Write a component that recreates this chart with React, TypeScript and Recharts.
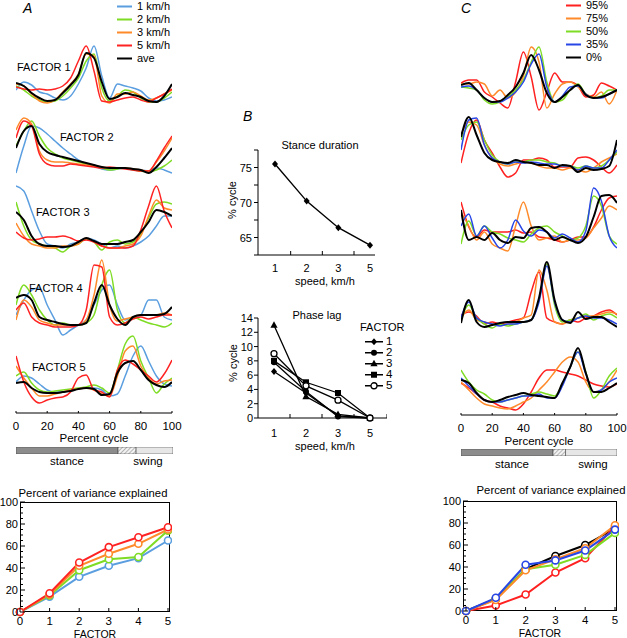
import React from 'react';
import { LineChart, Line, XAxis, YAxis, BarChart, Bar } from 'recharts';

// percent of gait cycle, sampled every 5%
const CYCLE = [0, 5, 10, 15, 20, 25, 30, 35, 40, 45, 50, 55, 60, 65, 70, 75, 80, 85, 90, 95, 100];
const CYCLE_TICKS = [0, 20, 40, 60, 80, 100];

const SPEED_LABELS = ['1 km/h', '2 km/h', '3 km/h', '5 km/h', 'ave'];
const SPEED_COLORS = ['#5a9ee0', '#7edc24', '#ff8a2a', '#ff2222', '#000000'];
const LOAD_LABELS = ['95%', '75%', '50%', '35%', '0%'];
const LOAD_COLORS = ['#ff2020', '#ff8a2a', '#7edc24', '#2846e6', '#000000'];

// Panel A factor waveforms (arbitrary units)
const A1_K1 = [16, 24, 21, 14, 12, 8, 6, 10, 22, 38, 60, 30, 8, 22, 20, 18, 15, 8, 5, 6, 9];
const A1_K2 = [20, 16, 10, 6, 4, 5, 10, 18, 28, 45, 52, 18, 5, 10, 16, 14, 8, 4, 4, 8, 14];
const A1_K3 = [22, 20, 12, 5, 3, 6, 14, 22, 32, 52, 50, 10, 3, 12, 12, 14, 10, 6, 8, 12, 16];
const A1_K5 = [19, 17, 16, 17, 16, 17, 20, 28, 45, 60, 35, 5, 4, 6, 8, 9, 6, 4, 8, 12, 17];
const A1_AVE = [23, 20, 13, 8, 5, 6, 13, 21, 31, 53, 48, 24, 7, 9, 13, 11, 9, 5, 4, 10, 22];

const A2_K1 = [3, 30, 50, 48, 42, 35, 28, 22, 16, 12, 10, 7, 6, 7, 8, 6, 6, 5, 8, 6, 3];
const A2_K2 = [30, 45, 55, 40, 28, 22, 18, 16, 14, 12, 10, 8, 6, 7, 8, 6, 5, 4, 6, 10, 16];
const A2_K3 = [46, 58, 52, 25, 16, 14, 14, 13, 12, 11, 10, 9, 8, 8, 8, 7, 6, 5, 14, 25, 38];
const A2_K5 = [38, 55, 50, 22, 12, 10, 10, 12, 11, 10, 9, 8, 9, 8, 7, 6, 5, 5, 15, 28, 40];
const A2_AVE = [28, 45, 50, 32, 24, 21, 19, 17, 15, 13, 11, 9, 8, 8, 8, 7, 6, 3, 9, 18, 28];

const A3_K1 = [70, 65, 45, 25, 12, 10, 8, 12, 14, 18, 16, 12, 8, 10, 8, 10, 14, 20, 30, 40, 40];
const A3_K2 = [54, 30, 16, 12, 10, 8, 4, 10, 12, 17, 14, 6, 14, 16, 12, 14, 22, 38, 52, 54, 52];
const A3_K3 = [33, 20, 12, 10, 8, 8, 10, 10, 12, 18, 14, 10, 8, 8, 10, 12, 20, 40, 56, 48, 46];
const A3_K5 = [24, 18, 16, 17, 19, 19, 20, 18, 15, 16, 14, 10, 8, 8, 8, 10, 26, 50, 70, 45, 28];
const A3_AVE = [44, 36, 20, 12, 10, 10, 9, 10, 14, 18, 15, 12, 12, 12, 14, 16, 24, 34, 46, 44, 40];

const A4_K1 = [30, 45, 55, 57, 40, 25, 10, 15, 20, 25, 40, 55, 60, 40, 25, 28, 30, 45, 45, 28, 25];
const A4_K2 = [40, 60, 50, 35, 25, 20, 22, 20, 20, 22, 30, 60, 75, 35, 22, 28, 25, 22, 20, 18, 22];
const A4_K3 = [25, 45, 38, 25, 22, 20, 20, 20, 20, 25, 50, 85, 40, 24, 26, 28, 30, 30, 30, 32, 30];
const A4_K5 = [35, 42, 28, 22, 20, 18, 18, 18, 20, 35, 80, 78, 28, 20, 22, 26, 28, 26, 28, 30, 30];
const A4_AVE = [47, 50, 45, 28, 25, 23, 21, 20, 20, 22, 42, 60, 40, 26, 20, 28, 30, 30, 30, 31, 38];

const A5_K1 = [24, 30, 28, 22, 16, 14, 14, 16, 17, 18, 18, 16, 10, 12, 30, 50, 60, 45, 30, 22, 20];
const A5_K2 = [30, 34, 23, 16, 14, 15, 16, 17, 18, 19, 21, 18, 13, 36, 62, 70, 45, 28, 13, 22, 28];
const A5_K3 = [40, 28, 18, 10, 10, 12, 14, 16, 17, 18, 16, 12, 10, 30, 55, 60, 40, 28, 22, 25, 26];
const A5_K5 = [50, 24, 9, 3, 6, 8, 9, 14, 28, 31, 16, 14, 9, 36, 46, 42, 36, 30, 24, 32, 46];
const A5_AVE = [23, 24, 18, 14, 13, 13, 14, 15, 17, 18, 17, 11, 12, 33, 43, 45, 36, 26, 21, 19, 24];

// Panel C factor waveforms (arbitrary units)
const C1_P95 = [29, 32, 32, 20, 15, 9, 4, 30, 60, 35, 2, 20, 39, 30, 30, 26, 15, 17, 29, 26, 22];
const C1_P75 = [28, 28, 30, 28, 16, 22, 14, 20, 36, 65, 50, 4, 18, 28, 30, 25, 18, 15, 20, 8, 22];
const C1_P50 = [25, 24, 22, 12, 8, 10, 15, 22, 32, 50, 65, 30, 10, 12, 22, 28, 18, 14, 16, 22, 22];
const C1_P35 = [25, 26, 22, 14, 10, 10, 14, 20, 30, 48, 58, 25, 10, 16, 25, 26, 18, 14, 14, 18, 22];
const C1_P0 = [27, 29, 22, 14, 10, 11, 17, 25, 39, 57, 42, 19, 10, 15, 22, 27, 17, 14, 15, 18, 22];

const C2_P95 = [17, 47, 60, 40, 27, 13, 3, 7, 20, 20, 22, 20, 13, 13, 13, 22, 23, 20, 13, 7, 15];
const C2_P75 = [45, 58, 55, 35, 22, 16, 14, 16, 18, 17, 14, 12, 12, 10, 12, 10, 8, 12, 18, 22, 26];
const C2_P50 = [40, 55, 58, 40, 25, 18, 16, 18, 18, 20, 20, 18, 17, 14, 14, 12, 14, 12, 14, 20, 28];
const C2_P35 = [30, 60, 62, 35, 22, 18, 16, 18, 17, 18, 17, 16, 16, 14, 14, 10, 14, 12, 12, 20, 30];
const C2_P0 = [43, 63, 45, 27, 20, 18, 17, 20, 18, 17, 15, 15, 12, 15, 14, 8, 12, 10, 11, 14, 40];

const C3_P95 = [54, 29, 19, 26, 24, 24, 24, 26, 23, 24, 19, 18, 16, 14, 16, 19, 19, 29, 46, 58, 60];
const C3_P75 = [44, 30, 16, 24, 12, 8, 5, 30, 54, 30, 16, 18, 20, 14, 16, 16, 18, 28, 38, 50, 46];
const C3_P50 = [12, 35, 20, 30, 24, 22, 18, 16, 14, 22, 28, 30, 24, 20, 16, 18, 30, 60, 50, 20, 12];
const C3_P35 = [30, 42, 20, 30, 18, 8, 16, 36, 25, 20, 26, 24, 18, 22, 18, 14, 25, 68, 55, 20, 8];
const C3_P0 = [46, 16, 19, 16, 23, 16, 13, 19, 18, 28, 29, 24, 16, 19, 16, 13, 19, 39, 60, 61, 53];

const C4_P95 = [15, 18, 14, 6, 8, 6, 8, 10, 12, 38, 58, 12, 8, 6, 10, 8, 12, 14, 18, 20, 15];
const C4_P75 = [12, 20, 10, 8, 6, 5, 6, 8, 12, 15, 60, 40, 8, 6, 10, 12, 14, 14, 16, 18, 16];
const C4_P50 = [10, 25, 12, 6, 2, 6, 4, 6, 8, 10, 30, 66, 25, 8, 10, 12, 16, 10, 14, 16, 12];
const C4_P35 = [12, 28, 12, 8, 6, 4, 6, 6, 8, 10, 28, 64, 28, 10, 8, 12, 14, 12, 12, 10, 6];
const C4_P0 = [7, 30, 8, 3, 5, 7, 8, 8, 8, 10, 32, 68, 30, 10, 7, 18, 11, 13, 13, 8, 3];

const C5_P95 = [29, 24, 18, 12, 10, 6, 4, 2, 8, 20, 34, 42, 42, 40, 38, 36, 32, 28, 26, 25, 28];
const C5_P75 = [30, 22, 14, 8, 6, 4, 3, 6, 10, 14, 22, 30, 40, 50, 55, 50, 30, 20, 22, 30, 42];
const C5_P50 = [42, 30, 22, 18, 12, 10, 12, 14, 16, 18, 20, 18, 16, 28, 45, 60, 40, 14, 22, 36, 44];
const C5_P35 = [34, 26, 18, 12, 10, 10, 12, 14, 16, 16, 18, 14, 14, 26, 45, 60, 38, 20, 22, 30, 34];
const C5_P0 = [32, 29, 19, 12, 10, 12, 15, 17, 19, 17, 16, 15, 14, 29, 45, 64, 39, 20, 20, 24, 29];

// stance / transition / swing, % of cycle
const PHASE_A = [65, 11.5, 23.5];
const PHASE_C = [59, 8, 33];

// Panel B
const SPEEDS = ['1', '2', '3', '5'];
const STANCE = [75.5, 70.2, 66.4, 63.9];
const STANCE_TICKS = [62.5, 65, 67.5, 70, 72.5, 75, 77.5];
const LAG_F1 = [6.5, 3.5, 0.3, 0];
const LAG_F2 = [7.8, 3.7, 0.2, 0];
const LAG_F3 = [13, 3, 0.5, 0];
const LAG_F4 = [8, 5, 3.5, 0];
const LAG_F5 = [9, 4.5, 2.5, 0];
const LAG_TICKS = [0, 2, 4, 6, 8, 10, 12, 14];
const LAG_NAMES = ['1', '2', '3', '4', '5'];
const LAG_SHAPES = ['diamond', 'circle', 'triangle', 'square', 'open'];

// Percent of variance explained
const FACTOR_IDX = [0, 1, 2, 3, 4, 5];
const VAR_TICKS = [0, 5, 10, 15, 20, 25, 30, 35, 40, 45, 50, 55, 60, 65, 70, 75, 80, 85, 90, 95, 100];
const VAR_A_K1 = [0, 14, 32, 42, 49, 65];
const VAR_A_K2 = [0, 15, 38, 48, 50, 74];
const VAR_A_K3 = [0, 16, 42, 53, 62, 75];
const VAR_A_K5 = [0, 17, 45, 59, 68, 77];
const VAR_C_P0 = [0, 11, 38, 50, 60, 75];
const VAR_C_P95 = [0, 5, 15, 35, 48, 77];
const VAR_C_P50 = [0, 11, 38, 42, 51, 71];
const VAR_C_P75 = [0, 10, 37, 47, 57, 78];
const VAR_C_P35 = [0, 12, 42, 46, 55, 74];

const A_FACTORS = [
  [A1_K1, A1_K2, A1_K3, A1_K5, A1_AVE],
  [A2_K1, A2_K2, A2_K3, A2_K5, A2_AVE],
  [A3_K1, A3_K2, A3_K3, A3_K5, A3_AVE],
  [A4_K1, A4_K2, A4_K3, A4_K5, A4_AVE],
  [A5_K1, A5_K2, A5_K3, A5_K5, A5_AVE],
];
const C_FACTORS = [
  [C1_P95, C1_P75, C1_P50, C1_P35, C1_P0],
  [C2_P95, C2_P75, C2_P50, C2_P35, C2_P0],
  [C3_P95, C3_P75, C3_P50, C3_P35, C3_P0],
  [C4_P95, C4_P75, C4_P50, C4_P35, C4_P0],
  [C5_P95, C5_P75, C5_P50, C5_P35, C5_P0],
];

// strip placement: [top, height] in px
const A_BOXES = [[42, 64], [112, 64], [180, 76], [255, 90], [328, 78]];
const C_BOXES = [[40, 72], [110, 70], [183, 73], [258, 72], [340, 72]];
const A_FACTOR_LABELS = [[17, 67], [60, 137], [36, 212], [29, 288], [32, 367]];

const FONT = '"Liberation Sans", Arial, Helvetica, sans-serif';

function Txt({ x, y, children, size = 11, center = false, italic = false, rotate = false }: any) {
  const tf = rotate ? 'translate(-50%, -50%) rotate(-90deg)' : center ? 'translate(-50%, -50%)' : 'translate(0, -50%)';
  return (
    <div
      style={{
        position: 'absolute',
        left: x,
        top: y,
        transform: tf,
        fontSize: size,
        lineHeight: 1,
        whiteSpace: 'nowrap',
        fontStyle: italic ? 'italic' : 'normal',
      }}
    >
      {children}
    </div>
  );
}

function Marker({ cx, cy, shape }: { cx: number; cy: number; shape: string }) {
  if (cx == null || cy == null) return null;
  if (shape === 'diamond')
    return <polygon points={`${cx},${cy - 3.5} ${cx + 3},${cy} ${cx},${cy + 3.5} ${cx - 3},${cy}`} fill="#000" />;
  if (shape === 'triangle')
    return <polygon points={`${cx},${cy - 4} ${cx + 3.6},${cy + 2.6} ${cx - 3.6},${cy + 2.6}`} fill="#000" />;
  if (shape === 'square') return <rect x={cx - 3} y={cy - 3} width={6} height={6} fill="#000" />;
  if (shape === 'open') return <circle cx={cx} cy={cy} r={3} fill="#fff" stroke="#000" strokeWidth={1.3} />;
  return <circle cx={cx} cy={cy} r={3} fill="#000" />;
}

// x tick: mark pointing up, label below
function UpTick(props: any) {
  const { x, y, payload, len = 5, dy = 16, size = 11.5 } = props;
  return (
    <g>
      <line x1={x} y1={y} x2={x} y2={y - len} stroke="#000" strokeWidth={1} />
      <text x={x} y={y + dy} textAnchor="middle" fontSize={size} fill="#000">
        {payload.value}
      </text>
    </g>
  );
}

function TraceStrip({ left, top, height, series, colors }: any) {
  const rows = CYCLE.map((p, i) => {
    const row: Record<string, number> = { p };
    series.forEach((s: number[], j: number) => {
      row['s' + j] = s[i];
    });
    return row;
  });
  return (
    <div style={{ position: 'absolute', left, top }}>
      <LineChart width={156} height={height} data={rows} margin={{ top: 0, right: 0, bottom: 0, left: 0 }}>
        <XAxis dataKey="p" type="number" domain={[0, 100]} hide />
        <YAxis type="number" domain={[0, height]} hide allowDataOverflow />
        {series.map((_: number[], j: number) => (
          <Line
            key={j}
            dataKey={'s' + j}
            type="monotone"
            stroke={colors[j]}
            strokeWidth={j === 4 ? 2 : 1.5}
            dot={false}
            isAnimationActive={false}
          />
        ))}
      </LineChart>
    </div>
  );
}

function CycleAxis({ left, top }: any) {
  const rows = CYCLE_TICKS.map((p) => ({ p, z: 0 }));
  return (
    <div style={{ position: 'absolute', left: left - 12, top }}>
      <LineChart width={180} height={24} data={rows} margin={{ top: 1, right: 12, bottom: 0, left: 12 }}>
        <XAxis
          dataKey="p"
          type="number"
          domain={[0, 100]}
          ticks={CYCLE_TICKS}
          interval={0}
          height={22}
          tickLine={false}
          tickSize={0}
          tickMargin={0}
          axisLine={{ stroke: '#000' }}
          tick={(t: any) => <UpTick {...t} len={5} dy={17} />}
        />
        <YAxis hide domain={[0, 1]} allowDataOverflow />
        <Line dataKey="z" stroke="none" dot={false} isAnimationActive={false} />
      </LineChart>
    </div>
  );
}

function PhaseBar({ left, top, width, phase, id }: any) {
  const rows = [{ name: 'cycle', stance: phase[0], transition: phase[1], swing: phase[2] }];
  return (
    <div style={{ position: 'absolute', left, top }}>
      <BarChart layout="vertical" width={width} height={7} data={rows} margin={{ top: 0, right: 0, bottom: 0, left: 0 }} barCategoryGap={0}>
        <defs>
          <pattern id={id} width={3} height={3} patternUnits="userSpaceOnUse" patternTransform="rotate(45)">
            <rect width={3} height={3} fill="#f2f2f2" />
            <line x1={0} y1={0} x2={0} y2={3} stroke="#888" strokeWidth={1.2} />
          </pattern>
        </defs>
        <XAxis type="number" domain={[0, 100]} hide />
        <YAxis type="category" dataKey="name" hide />
        <Bar dataKey="stance" stackId="a" fill="#8c8c8c" stroke="#444" strokeWidth={0.6} isAnimationActive={false} />
        <Bar dataKey="transition" stackId="a" fill={`url(#${id})`} stroke="#444" strokeWidth={0.6} isAnimationActive={false} />
        <Bar dataKey="swing" stackId="a" fill="#e6e6e6" stroke="#444" strokeWidth={0.6} isAnimationActive={false} />
      </BarChart>
    </div>
  );
}

// plot area sits at (left, top) with size plotW x 110
function VarianceChart({ left, top, plotW, series, colors, padLeft }: any) {
  const rows = FACTOR_IDX.map((f, i) => {
    const r: Record<string, number> = { f };
    series.forEach((s: number[], j: number) => {
      r['s' + j] = s[i];
    });
    return r;
  });
  return (
    <div style={{ position: 'absolute', left: left - 30, top: top - 8 }}>
      <div
        style={{
          position: 'absolute',
          left: 30,
          top: 8,
          width: plotW,
          height: 110,
          border: '1px solid #000',
          boxSizing: 'border-box',
        }}
      />
      <LineChart width={32 + plotW} height={144} data={rows} margin={{ top: 8, right: 2, bottom: 0, left: 0 }}>
        <XAxis
          dataKey="f"
          type="number"
          domain={[0, 5]}
          ticks={FACTOR_IDX}
          interval={0}
          height={26}
          padding={{ left: padLeft, right: 2 }}
          tickLine={false}
          tickSize={0}
          tickMargin={0}
          axisLine={false}
          tick={(t: any) => <UpTick {...t} len={4} dy={12.5} size={11.5} />}
        />
        <YAxis
          width={30}
          type="number"
          domain={[0, 100]}
          ticks={VAR_TICKS}
          interval={0}
          tickLine={false}
          tickSize={0}
          tickMargin={0}
          axisLine={false}
          tick={(t: any) => {
            const major = t.payload.value % 20 === 0;
            return (
              <g>
                <line x1={t.x} y1={t.y} x2={t.x + (major ? 5 : 3)} y2={t.y} stroke="#000" />
                {major && (
                  <text x={t.x - 2} y={t.y + 4} textAnchor="end" fontSize={11} fill="#000">
                    {t.payload.value}
                  </text>
                )}
              </g>
            );
          }}
        />
        {series.map((_: number[], j: number) => (
          <Line
            key={j}
            dataKey={'s' + j}
            stroke={colors[j]}
            strokeWidth={2}
            dot={{ r: 3.5, fill: '#fff', strokeWidth: 1.6 }}
            isAnimationActive={false}
          />
        ))}
      </LineChart>
    </div>
  );
}

function StanceChart() {
  const rows = SPEEDS.map((s, i) => ({ speed: s, stance: STANCE[i] }));
  return (
    <div style={{ position: 'absolute', left: 218, top: 144 }}>
      <LineChart width={157} height={141} data={rows} margin={{ top: 6, right: 0, bottom: 0, left: 0 }}>
        <XAxis
          dataKey="speed"
          padding={{ left: 17, right: 5 }}
          height={30}
          interval={0}
          tickLine={false}
          tickSize={0}
          tickMargin={0}
          axisLine={{ stroke: '#000' }}
          tick={(t: any) => (
            <g>
              {t.index > 0 && <line x1={t.x - 16} y1={t.y} x2={t.x - 16} y2={t.y - 4} stroke="#000" />}
              <text x={t.x} y={t.y + 17} textAnchor="middle" fontSize={11} fill="#000">
                {t.payload.value}
              </text>
            </g>
          )}
        />
        <YAxis
          width={40}
          type="number"
          domain={[62.5, 77.5]}
          ticks={STANCE_TICKS}
          interval={0}
          tickLine={false}
          tickSize={0}
          tickMargin={0}
          axisLine={{ stroke: '#000' }}
          tick={(t: any) => (
            <g>
              <line x1={t.x - 4} y1={t.y} x2={t.x} y2={t.y} stroke="#000" />
              {t.payload.value % 5 === 0 && (
                <text x={t.x - 6} y={t.y + 4} textAnchor="end" fontSize={11} fill="#000">
                  {t.payload.value}
                </text>
              )}
            </g>
          )}
        />
        <Line
          dataKey="stance"
          stroke="#000"
          strokeWidth={1.4}
          isAnimationActive={false}
          dot={(p: any) => <Marker key={p.index} cx={p.cx} cy={p.cy} shape="diamond" />}
        />
      </LineChart>
    </div>
  );
}

function PhaseLagChart() {
  const lags = [LAG_F1, LAG_F2, LAG_F3, LAG_F4, LAG_F5];
  const rows = SPEEDS.map((s, i) => {
    const r: Record<string, any> = { speed: s };
    lags.forEach((l, j) => {
      r['f' + j] = l[i];
    });
    return r;
  });
  return (
    <div style={{ position: 'absolute', left: 218, top: 311 }}>
      <LineChart width={169} height={137} data={rows} margin={{ top: 7, right: 0, bottom: 0, left: 0 }}>
        <XAxis
          dataKey="speed"
          padding={{ left: 16, right: 17 }}
          height={30}
          interval={0}
          tickLine={false}
          tickSize={0}
          tickMargin={0}
          axisLine={{ stroke: '#000' }}
          tick={(t: any) => (
            <g>
              {t.index > 0 && <line x1={t.x - 16} y1={t.y} x2={t.x - 16} y2={t.y - 4} stroke="#000" />}
              {t.index === SPEEDS.length - 1 && <line x1={t.x + 17} y1={t.y} x2={t.x + 17} y2={t.y - 4} stroke="#000" />}
              <text x={t.x} y={t.y + 19} textAnchor="middle" fontSize={11} fill="#000">
                {t.payload.value}
              </text>
            </g>
          )}
        />
        <YAxis
          width={40}
          type="number"
          domain={[0, 14]}
          ticks={LAG_TICKS}
          interval={0}
          tickLine={false}
          tickSize={0}
          tickMargin={0}
          axisLine={{ stroke: '#000' }}
          tick={(t: any) => (
            <g>
              <line x1={t.x - 4} y1={t.y} x2={t.x} y2={t.y} stroke="#000" />
              <text x={t.x - 5} y={t.y + 4} textAnchor="end" fontSize={11} fill="#000">
                {t.payload.value}
              </text>
            </g>
          )}
        />
        {lags.map((_, j) => (
          <Line
            key={j}
            dataKey={'f' + j}
            stroke="#000"
            strokeWidth={1.3}
            isAnimationActive={false}
            dot={(p: any) => <Marker key={p.index} cx={p.cx} cy={p.cy} shape={LAG_SHAPES[j]} />}
          />
        ))}
      </LineChart>
    </div>
  );
}

function ColorLegend({ left, top, labels, colors, gap }: any) {
  return (
    <>
      {labels.map((lab: string, i: number) => (
        <div key={lab} style={{ position: 'absolute', left, top: top + i * gap, display: 'flex', alignItems: 'center', transform: 'translateY(-50%)' }}>
          <div style={{ width: 15, height: 2, background: colors[i], marginRight: 5 }} />
          <span style={{ fontSize: 11, lineHeight: 1 }}>{lab}</span>
        </div>
      ))}
    </>
  );
}

export default function App() {
  return (
    <div
      style={{
        position: 'absolute',
        left: 0,
        top: 0,
        width: 627,
        height: 638,
        background: '#fff',
        color: '#000',
        fontFamily: FONT,
        overflow: 'hidden',
      }}
    >
      {/* Panel A */}
      <Txt x={23} y={8} size={14} italic>A</Txt>
      <ColorLegend left={117} top={6} labels={SPEED_LABELS} colors={SPEED_COLORS} gap={13} />
      {A_FACTORS.map((series, i) => (
        <TraceStrip key={i} left={16} top={A_BOXES[i][0]} height={A_BOXES[i][1]} series={series} colors={SPEED_COLORS} />
      ))}
      {A_FACTOR_LABELS.map(([x, y], i) => (
        <Txt key={i} x={x} y={y} size={11}>{`FACTOR ${i + 1}`}</Txt>
      ))}
      <CycleAxis left={16} top={411} />
      <Txt x={94} y={439} size={11.5} center>Percent cycle</Txt>
      <PhaseBar left={16} top={447} width={157} phase={PHASE_A} id="hatchA" />
      <Txt x={67} y={462} size={11.5} center>stance</Txt>
      <Txt x={148} y={462} size={11.5} center>swing</Txt>
      <Txt x={93} y={494} size={11.3} center>Percent of variance explained</Txt>
      <VarianceChart
        left={20}
        top={502}
        plotW={150}
        padLeft={0}
        series={[VAR_A_K1, VAR_A_K2, VAR_A_K3, VAR_A_K5]}
        colors={SPEED_COLORS}
      />
      <Txt x={95} y={633.5} size={10.5} center>FACTOR</Txt>

      {/* Panel B */}
      <Txt x={243} y={116} size={14} italic>B</Txt>
      <Txt x={320} y={145} size={11} center>Stance duration</Txt>
      <StanceChart />
      <Txt x={232} y={200} size={11} rotate>% cycle</Txt>
      <Txt x={325} y={281} size={11} center>speed, km/h</Txt>
      <Txt x={317} y={315} size={11} center>Phase lag</Txt>
      <PhaseLagChart />
      <Txt x={233} y={363} size={11} rotate>% cycle</Txt>
      <Txt x={325} y={446} size={11} center>speed, km/h</Txt>
      <Txt x={360} y={327} size={11}>FACTOR</Txt>
      {LAG_NAMES.map((n, j) => (
        <div key={n} style={{ position: 'absolute', left: 364, top: 342 + j * 11, display: 'flex', alignItems: 'center', transform: 'translateY(-50%)' }}>
          <svg width={20} height={9}>
            <line x1={1} y1={4.5} x2={19} y2={4.5} stroke="#000" strokeWidth={1.3} />
            <Marker cx={10} cy={4.5} shape={LAG_SHAPES[j]} />
          </svg>
          <span style={{ fontSize: 11.5, lineHeight: 1, marginLeft: 2 }}>{n}</span>
        </div>
      ))}

      {/* Panel C */}
      <Txt x={461} y={8} size={14} italic>C</Txt>
      <ColorLegend left={566} top={5} labels={LOAD_LABELS} colors={LOAD_COLORS} gap={13} />
      {C_FACTORS.map((series, i) => (
        <TraceStrip key={i} left={461} top={C_BOXES[i][0]} height={C_BOXES[i][1]} series={series} colors={LOAD_COLORS} />
      ))}
      <CycleAxis left={461} top={413} />
      <Txt x={539} y={442} size={11.5} center>Percent cycle</Txt>
      <PhaseBar left={461} top={449} width={156} phase={PHASE_C} id="hatchC" />
      <Txt x={512} y={465} size={11.5} center>stance</Txt>
      <Txt x={593} y={465} size={11.5} center>swing</Txt>
      <Txt x={551} y={491} size={11.3} center>Percent of variance explained</Txt>
      <VarianceChart
        left={463}
        top={501}
        plotW={154}
        padLeft={3}
        series={[VAR_C_P0, VAR_C_P95, VAR_C_P50, VAR_C_P75, VAR_C_P35]}
        colors={[LOAD_COLORS[4], LOAD_COLORS[0], LOAD_COLORS[2], LOAD_COLORS[1], LOAD_COLORS[3]]}
      />
      <Txt x={540} y={632.5} size={10.5} center>FACTOR</Txt>
    </div>
  );
}
